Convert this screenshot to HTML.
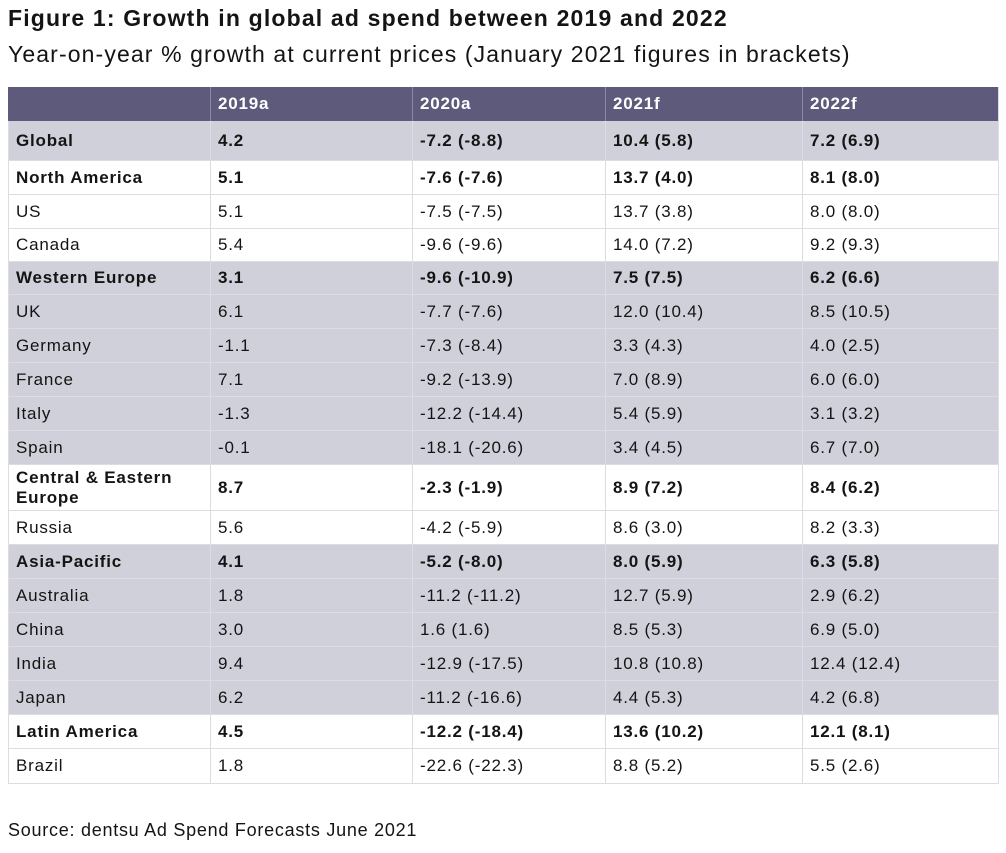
<!DOCTYPE html>
<html><head><meta charset="utf-8">
<style>
html,body{margin:0;padding:0;background:#fff;}
body{width:1006px;height:853px;position:relative;overflow:hidden;font-family:"Liberation Sans",sans-serif;color:#141414;}
.t1{position:absolute;left:8px;top:2px;font-size:23px;font-weight:bold;letter-spacing:1.17px;white-space:nowrap;line-height:32px;}
.t2{position:absolute;left:8px;top:38px;font-size:23px;letter-spacing:1.12px;white-space:nowrap;line-height:32px;}
.src{position:absolute;left:8px;top:819px;font-size:18px;letter-spacing:0.74px;white-space:nowrap;line-height:22px;}
.r{position:absolute;left:8px;width:991px;display:flex;box-sizing:border-box;border-bottom:1px solid #dcdce2;}
.c{box-sizing:border-box;border-left:1px solid #dcdce2;padding-left:7px;display:flex;align-items:center;font-size:17px;letter-spacing:0.8px;line-height:20px;height:100%;}
.c:last-child{border-right:1px solid #dcdce2;}
.c1{width:202px}.c2{width:202px}.c3{width:193px}.c4{width:197px}.c5{width:197px}
.s{background:#d0d0da;}
.s .c{border-left-color:#dcdce4;}
.b .c{font-weight:bold;letter-spacing:0.8px;}
.h{background:#5e5a7b;color:#fff;border-bottom:none;}
.h .c{font-weight:bold;border-left-color:#8b88a2;letter-spacing:0.8px;}
.h .c:first-child{border-left-color:#5e5a7b;}
</style></head><body>
<div class="t1">Figure 1: Growth in global ad spend between 2019 and 2022</div>
<div class="t2">Year-on-year % growth at current prices (January 2021 figures in brackets)</div>

<div class="r h" style="top:87px;height:34px"><div class="c c1"></div><div class="c c2">2019a</div><div class="c c3">2020a</div><div class="c c4">2021f</div><div class="c c5">2022f</div></div>
<div class="r s b" style="top:121px;height:40px"><div class="c c1">Global</div><div class="c c2">4.2</div><div class="c c3">-7.2 (-8.8)</div><div class="c c4">10.4 (5.8)</div><div class="c c5">7.2 (6.9)</div></div>
<div class="r b" style="top:161px;height:34px"><div class="c c1">North America</div><div class="c c2">5.1</div><div class="c c3">-7.6 (-7.6)</div><div class="c c4">13.7 (4.0)</div><div class="c c5">8.1 (8.0)</div></div>
<div class="r" style="top:195px;height:34px"><div class="c c1">US</div><div class="c c2">5.1</div><div class="c c3">-7.5 (-7.5)</div><div class="c c4">13.7 (3.8)</div><div class="c c5">8.0 (8.0)</div></div>
<div class="r" style="top:229px;height:33px"><div class="c c1">Canada</div><div class="c c2">5.4</div><div class="c c3">-9.6 (-9.6)</div><div class="c c4">14.0 (7.2)</div><div class="c c5">9.2 (9.3)</div></div>
<div class="r s b" style="top:262px;height:33px"><div class="c c1">Western Europe</div><div class="c c2">3.1</div><div class="c c3">-9.6 (-10.9)</div><div class="c c4">7.5 (7.5)</div><div class="c c5">6.2 (6.6)</div></div>
<div class="r s" style="top:295px;height:34px"><div class="c c1">UK</div><div class="c c2">6.1</div><div class="c c3">-7.7 (-7.6)</div><div class="c c4">12.0 (10.4)</div><div class="c c5">8.5 (10.5)</div></div>
<div class="r s" style="top:329px;height:34px"><div class="c c1">Germany</div><div class="c c2">-1.1</div><div class="c c3">-7.3 (-8.4)</div><div class="c c4">3.3 (4.3)</div><div class="c c5">4.0 (2.5)</div></div>
<div class="r s" style="top:363px;height:34px"><div class="c c1">France</div><div class="c c2">7.1</div><div class="c c3">-9.2 (-13.9)</div><div class="c c4">7.0 (8.9)</div><div class="c c5">6.0 (6.0)</div></div>
<div class="r s" style="top:397px;height:34px"><div class="c c1">Italy</div><div class="c c2">-1.3</div><div class="c c3">-12.2 (-14.4)</div><div class="c c4">5.4 (5.9)</div><div class="c c5">3.1 (3.2)</div></div>
<div class="r s" style="top:431px;height:34px"><div class="c c1">Spain</div><div class="c c2">-0.1</div><div class="c c3">-18.1 (-20.6)</div><div class="c c4">3.4 (4.5)</div><div class="c c5">6.7 (7.0)</div></div>
<div class="r b" style="top:465px;height:46px"><div class="c c1">Central &amp; Eastern<br>Europe</div><div class="c c2">8.7</div><div class="c c3">-2.3 (-1.9)</div><div class="c c4">8.9 (7.2)</div><div class="c c5">8.4 (6.2)</div></div>
<div class="r" style="top:511px;height:34px"><div class="c c1">Russia</div><div class="c c2">5.6</div><div class="c c3">-4.2 (-5.9)</div><div class="c c4">8.6 (3.0)</div><div class="c c5">8.2 (3.3)</div></div>
<div class="r s b" style="top:545px;height:34px"><div class="c c1">Asia-Pacific</div><div class="c c2">4.1</div><div class="c c3">-5.2 (-8.0)</div><div class="c c4">8.0 (5.9)</div><div class="c c5">6.3 (5.8)</div></div>
<div class="r s" style="top:579px;height:34px"><div class="c c1">Australia</div><div class="c c2">1.8</div><div class="c c3">-11.2 (-11.2)</div><div class="c c4">12.7 (5.9)</div><div class="c c5">2.9 (6.2)</div></div>
<div class="r s" style="top:613px;height:34px"><div class="c c1">China</div><div class="c c2">3.0</div><div class="c c3">1.6 (1.6)</div><div class="c c4">8.5 (5.3)</div><div class="c c5">6.9 (5.0)</div></div>
<div class="r s" style="top:647px;height:34px"><div class="c c1">India</div><div class="c c2">9.4</div><div class="c c3">-12.9 (-17.5)</div><div class="c c4">10.8 (10.8)</div><div class="c c5">12.4 (12.4)</div></div>
<div class="r s" style="top:681px;height:34px"><div class="c c1">Japan</div><div class="c c2">6.2</div><div class="c c3">-11.2 (-16.6)</div><div class="c c4">4.4 (5.3)</div><div class="c c5">4.2 (6.8)</div></div>
<div class="r b" style="top:715px;height:34px"><div class="c c1">Latin America</div><div class="c c2">4.5</div><div class="c c3">-12.2 (-18.4)</div><div class="c c4">13.6 (10.2)</div><div class="c c5">12.1 (8.1)</div></div>
<div class="r" style="top:749px;height:35px"><div class="c c1">Brazil</div><div class="c c2">1.8</div><div class="c c3">-22.6 (-22.3)</div><div class="c c4">8.8 (5.2)</div><div class="c c5">5.5 (2.6)</div></div>

<div class="src">Source: dentsu Ad Spend Forecasts June 2021</div>
</body></html>
